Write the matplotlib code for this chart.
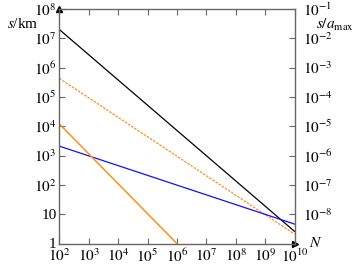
import matplotlib
matplotlib.use("Agg")
import matplotlib.pyplot as plt

plt.rcParams['font.family'] = ['Liberation Serif', 'DejaVu Serif']
plt.rcParams['mathtext.fontset'] = 'stix'

# data (N vs s in km)
N_long = [1e2, 1e10]
s_black = [2.0e7, 2.6]
s_orange_dash = [4.3e5, 2.1]
s_blue = [2.1e3, 4.6]
N_short = [1e2, 1e6]
s_orange = [1.2e4, 1.0]

a_max = 1e9  # km
x_ticks = [10.0**k for k in range(2, 11)]
x_labels = [r'$10^{%d}$' % k for k in range(2, 11)]
y_ticks = [10.0**k for k in range(0, 9)]
y_labels = ['1', '10'] + [r'$10^{%d}$' % k for k in range(2, 9)]
r_ticks = [10.0**k for k in range(-8, 0)]
r_labels = [r'$10^{%d}$' % k for k in range(-8, 0)]

W, H = 355, 264
fig = plt.figure(figsize=(W / 100, H / 100), dpi=100)
ax = fig.add_axes([59.3 / W, (H - 243.5) / H, 235.2 / W, 234.5 / H])

orange = '#f7941d'
ax.plot(N_long, s_black, color='black', lw=0.9)
ax.plot(N_long, s_orange_dash, color=orange, lw=0.9, ls=(0, (2.0, 1.0)))
ax.plot(N_long, s_blue, color='#1010ff', lw=0.9)
ax.plot(N_short, s_orange, color=orange, lw=1.1)

ax.set_xscale('log')
ax.set_yscale('log')
ax.set_xlim(1e2, 1e10)
ax.set_ylim(1, 1e8)

spine_c = '#666666'
for sp in ax.spines.values():
    sp.set_color(spine_c)
    sp.set_linewidth(1.0)

fs = 11
ax.set_xticks(x_ticks)
ax.set_xticklabels(x_labels)
ax.set_yticks(y_ticks)
ax.set_yticklabels(y_labels)
ax.minorticks_off()
ax.tick_params(direction='in', length=4, width=0.8, color=spine_c,
               labelsize=fs, top=True, pad=2)
ax.tick_params(axis='x', pad=3)

# right axis: s / a_max
ax2 = ax.twinx()
ax2.set_yscale('log')
ax2.set_ylim(1 / a_max, 1e8 / a_max)
ax2.set_yticks(r_ticks)
ax2.set_yticklabels(r_labels)
ax2.minorticks_off()
ax2.tick_params(direction='in', length=4, width=0.8, color=spine_c,
                labelsize=fs, pad=6)
for sp in ax2.spines.values():
    sp.set_visible(False)

# arrow heads on the axes
ax.plot(0, 1, marker='^', color='black', markersize=4, transform=ax.transAxes, clip_on=False)
ax.plot(1, 0, marker='>', color='black', markersize=4, transform=ax.transAxes, clip_on=False)

fig.text(38 / W, 1 - 24 / H, r'$s$/km', ha='right', va='center', fontsize=fs)
fig.text(335 / W, 1 - 25 / H, r'$s/a_{\max}$', ha='center', va='center', fontsize=fs)
fig.text(316 / W, 1 - 243 / H, r'$N$', ha='center', va='center', fontsize=fs)

fig.savefig('out.png', dpi=100)
